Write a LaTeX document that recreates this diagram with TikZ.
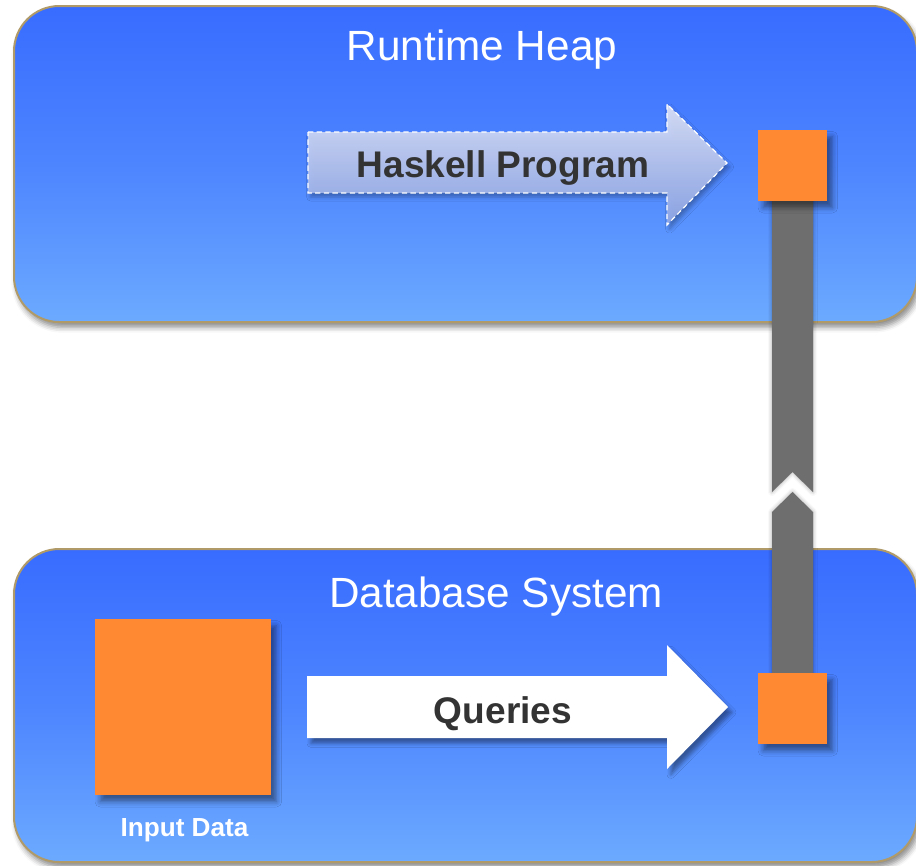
\documentclass[tikz,border=0pt]{standalone}
\usepackage{fontspec}
\setmainfont{Liberation Sans}
\usetikzlibrary{shadows.blur}
\definecolor{boxtop}{HTML}{386CFF}
\definecolor{boxbot}{HTML}{6CAAFF}
\definecolor{boxline}{HTML}{B09A68}
\definecolor{orng}{HTML}{FF8833}
\definecolor{barcol}{HTML}{6E6E6E}
\definecolor{txt}{HTML}{333333}
\definecolor{hasktop}{HTML}{E0E5F8}
\definecolor{haskbot}{HTML}{8FA6E6}
\begin{document}
\begin{tikzpicture}[x=0.75pt,y=-0.75pt,
  regionbox/.style={rectangle, rounded corners=34pt, draw=boxline, line width=1.5pt,
    top color=boxtop, bottom color=boxbot, middle color=boxtop!60!boxbot,
    inner sep=0pt, minimum width=677.25pt,
    blur shadow={shadow xshift=2pt, shadow yshift=-4pt, shadow blur radius=4pt, shadow opacity=45}},
  title/.style={text=white, font=\fontsize{31.7}{38}\selectfont, anchor=base},
  arrowlabel/.style={text=txt, font=\fontsize{27.8}{33}\selectfont\bfseries, anchor=base},
  datasq/.style={rectangle, fill=orng, inner sep=0pt,
    blur shadow={shadow xshift=4pt, shadow yshift=-5pt, shadow blur radius=4pt, shadow opacity=45}},
  barshape/.style={fill=barcol,
    blur shadow={shadow xshift=0pt, shadow yshift=0pt, shadow blur radius=3pt, shadow opacity=35}},
]
\useasboundingbox (0,0) rectangle (916,865);

% region boxes
\node[regionbox, minimum height=237pt] (heap) at (465.5,164) {};
\node[regionbox, minimum height=234.75pt] (db) at (465.5,705.5) {};

\node[title] (heaptitle) at (482,60) {Runtime Heap};
\node[title] (dbtitle) at (496,607) {Database System};

% Haskell program arrow (dashed, translucent)
\path[top color=hasktop, bottom color=haskbot, fill opacity=0.92, draw=white, dashed,
      dash pattern=on 4pt off 2.5pt, line width=0.9pt,
      blur shadow={shadow xshift=2pt, shadow yshift=-3pt, shadow blur radius=3pt, shadow opacity=30}]
  (308,132) -- (667,132) -- (667,104) -- (727,163) -- (667,225) -- (667,193) -- (308,193) -- cycle;
\node[arrowlabel] (hask) at (503,177) {Haskell Program};

% Queries arrow
\path[fill=white,
      blur shadow={shadow xshift=3pt, shadow yshift=-4pt, shadow blur radius=3pt, shadow opacity=40}]
  (307,676) -- (667,676) -- (667,645) -- (728,707) -- (667,769) -- (667,738) -- (307,738) -- cycle;
\node[arrowlabel] (queries) at (503,723) {Queries};

% gray connecting bar
\path[barshape] (772,190) -- (813,190) -- (813,492) -- (792.5,472) -- (772,492) -- cycle;
\path[barshape] (772,680) -- (772,512) -- (792.5,492) -- (813,512) -- (813,680) -- cycle;

% data squares
\node[datasq, minimum width=51.75pt, minimum height=53.25pt] (heapdata) at (792.5,165.5) {};
\node[datasq, minimum width=51.75pt, minimum height=53.25pt] (result) at (792.5,708.5) {};
\node[datasq, minimum width=132pt, minimum height=132pt] (input) at (183,707) {};

\node[text=white, font=\fontsize{19.6}{23}\selectfont\bfseries, anchor=base] (inputlabel) at (184.5,836.7) {Input Data};
\end{tikzpicture}
\end{document}
